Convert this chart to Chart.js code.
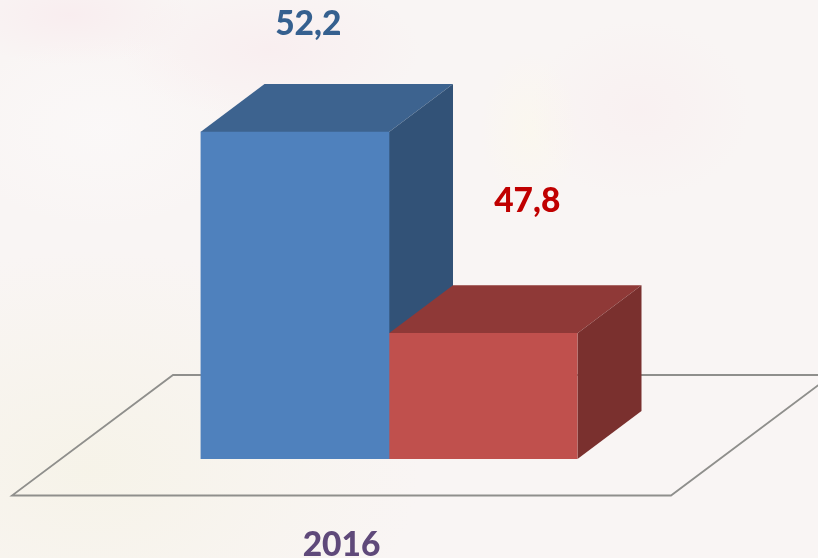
<!DOCTYPE html>
<html>
<head>
<meta charset="utf-8">
<style>
html,body{margin:0;padding:0;width:818px;height:558px;overflow:hidden}
body{background:
 radial-gradient(ellipse 150px 70px at 270px 50px, rgba(249,234,237,.6), rgba(249,234,237,0)),
 radial-gradient(ellipse 120px 50px at 70px 15px, rgba(249,232,236,.6), rgba(249,232,236,0)),
 radial-gradient(ellipse 110px 90px at 640px 110px, rgba(249,236,238,.5), rgba(249,236,238,0)),
 radial-gradient(ellipse 50px 80px at 530px 130px, rgba(252,249,234,.5), rgba(252,249,234,0)),
 radial-gradient(ellipse 150px 100px at 100px 130px, rgba(251,249,249,.7), rgba(251,249,249,0)),
 radial-gradient(ellipse 330px 220px at 90px 470px, rgba(246,243,232,.95), rgba(246,243,232,0)),
 #f9f5f4}
canvas{display:block}
</style>
<script src="https://cdn.jsdelivr.net/npm/chart.js@4"></script>
</head>
<body>
<canvas id="c" width="818" height="558"></canvas>
<script>
const categories = ['2016'];
const series1 = [52.2];
const series2 = [47.8];
const valueLabels = ['52,2', '47,8'];

const faceColors = ['#4f81bd', '#c0504d'];
const topColors = ['#3d638f', '#8f3937'];
const sideColors = ['#325277', '#7a302e'];
const labelColors = ['#35608f', '#c00000'];
const labelShift = [[13.5, -108], [44, -132]];
const depth = {x: 64, y: -48};
const fontFamily = 'Lato, "Open Sans", sans-serif';

const threeD = {
  id: 'threeD',
  beforeDatasetsDraw(chart) {
    const ctx = chart.ctx, base = chart.scales.y.bottom;
    const cx = chart.scales.x.getPixelForValue(0);
    // floor plate
    const frontY = base + 36.5, backY = frontY - 120.5;
    const fl = cx - 330, fr = cx + 329, skew = 161;
    ctx.save();
    ctx.strokeStyle = '#8f8f8c';
    ctx.lineWidth = 1.8;
    ctx.lineJoin = 'miter';
    ctx.beginPath();
    ctx.moveTo(fl - 47, frontY);
    ctx.lineTo(fr - 47, frontY);
    ctx.lineTo(fr - 47 + skew, backY);
    ctx.lineTo(fl - 47 + skew, backY);
    ctx.closePath();
    ctx.stroke();
    // blue block first, the red block's top overlaps its side
    [0, 1].forEach(i => {
      const b = chart.getDatasetMeta(i).data[0];
      const l = b.x - b.width / 2, r = b.x + b.width / 2, t = b.y;
      ctx.fillStyle = topColors[i];
      ctx.beginPath();
      ctx.moveTo(l, t); ctx.lineTo(l + depth.x, t + depth.y);
      ctx.lineTo(r + depth.x, t + depth.y); ctx.lineTo(r, t);
      ctx.closePath(); ctx.fill();
      ctx.fillStyle = sideColors[i];
      ctx.beginPath();
      ctx.moveTo(r, t); ctx.lineTo(r + depth.x, t + depth.y);
      ctx.lineTo(r + depth.x, base + depth.y); ctx.lineTo(r, base);
      ctx.closePath(); ctx.fill();
    });
    ctx.restore();
  },
  afterDatasetsDraw(chart) {
    const ctx = chart.ctx;
    ctx.save();
    ctx.font = '900 33.5px ' + fontFamily;
    ctx.textAlign = 'center';
    ctx.textBaseline = 'middle';
    [0, 1].forEach(i => {
      const b = chart.getDatasetMeta(i).data[0];
      ctx.fillStyle = labelColors[i];
      ctx.fillText(valueLabels[i], b.x + labelShift[i][0], b.y + labelShift[i][1]);
    });
    ctx.restore();
  }
};

new Chart(document.getElementById('c'), {
  type: 'bar',
  data: {
    labels: categories,
    datasets: [
      {label: 'A', data: series1, backgroundColor: faceColors[0], barPercentage: 1, categoryPercentage: 1},
      {label: 'B', data: series2, backgroundColor: faceColors[1], barPercentage: 1, categoryPercentage: 1}
    ]
  },
  options: {
    responsive: false,
    animation: false,
    layout: {padding: {left: 200.5, right: 240.5, top: 4, bottom: 0}},
    plugins: {legend: {display: false}, tooltip: {enabled: false}},
    scales: {
      x: {
        grid: {display: false},
        border: {display: false},
        afterFit(s) { s.height = 99; },
        ticks: {
          padding: 58.5,
          labelOffset: -47.5,
          color: '#5f497a',
          maxRotation: 0,
          font: {family: fontFamily, weight: '900', size: 33.5}
        }
      },
      y: {display: false, min: 45.05, max: 55}
    }
  },
  plugins: [threeD]
});
</script>
</body>
</html>
